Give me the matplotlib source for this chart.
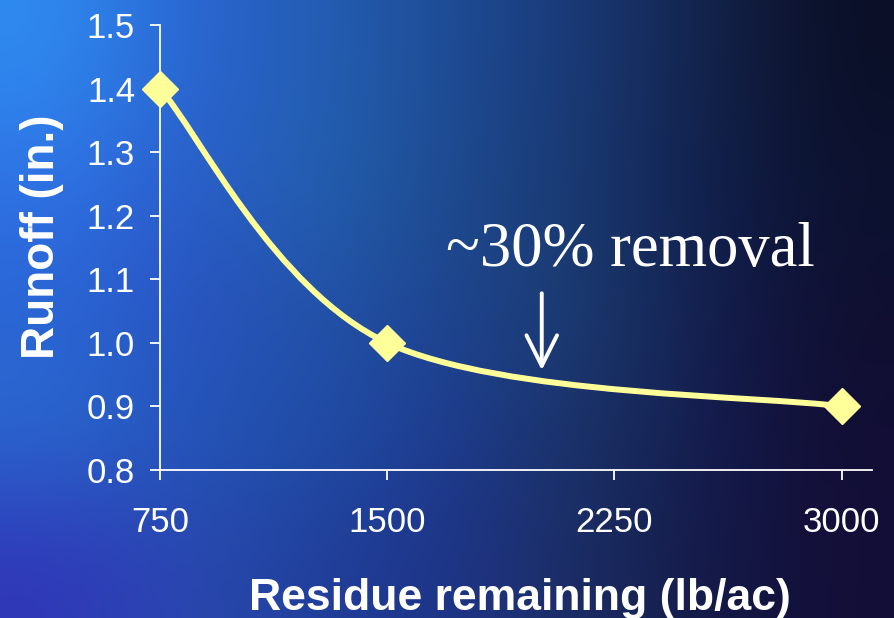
import numpy as np
import matplotlib
matplotlib.use("Agg")
import matplotlib.pyplot as plt
from matplotlib.path import Path
from matplotlib.patches import PathPatch, FancyArrowPatch

# runoff measured at three residue levels
residue = [750, 1500, 3000]          # lb/ac
runoff = [1.4, 1.0, 0.9]             # in.
x_ticks = [750, 1500, 2250, 3000]
y_ticks = [0.8, 0.9, 1.0, 1.1, 1.2, 1.3, 1.4, 1.5]
note = "~30% removal"
note_at = 2010                       # residue level the arrow points at

yellow = "#ffff99"

# coarse colour grid for the slide background (rows top to bottom)
bg_hex = [
    ["#2f8cf0", "#2a62d2", "#2460b4", "#1e4c96", "#1a3a78", "#14244c", "#0b0f26"],
    ["#2f72e6", "#2a5cc8", "#2264b0", "#1e4a90", "#1a3a72", "#10204c", "#0c1230"],
    ["#2a64d4", "#2a50c0", "#2252a8", "#1e4490", "#1c3e72", "#141f50", "#100f30"],
    ["#2a6ad0", "#2254b8", "#2050a8", "#1e3a90", "#1a3466", "#141c50", "#120e34"],
    ["#3036b8", "#2a4ab0", "#203e9a", "#1e3488", "#1c2e64", "#141a48", "#140e38"],
]
bg = np.array([[matplotlib.colors.to_rgb(c) for c in row] for row in bg_hex])

fig = plt.figure(figsize=(8.94, 6.18), dpi=100)
bg_ax = fig.add_axes([0, 0, 1, 1], zorder=-1)
bg_ax.imshow(bg, aspect="auto", interpolation="bicubic", extent=[0, 1, 0, 1])
bg_ax.set_axis_off()

ax = fig.add_axes([160 / 894, 1 - 470 / 618, 712 / 894, 445 / 618])
ax.patch.set_alpha(0)

# smoothed connector through the points (Bezier segments, Excel style)
pts = np.column_stack([residue, runoff]).astype(float)
verts = [pts[0]]
codes = [Path.MOVETO]
n = len(pts)
for i in range(n - 1):
    p_prev = pts[max(i - 1, 0)]
    p0, p1 = pts[i], pts[i + 1]
    p_next = pts[min(i + 2, n - 1)]
    c1 = p0 + (p1 - p_prev) / 6
    c2 = p1 - (p_next - p0) / 6
    verts += [c1, c2, p1]
    codes += [Path.CURVE4] * 3
ax.add_patch(PathPatch(Path(verts, codes), facecolor="none", edgecolor=yellow,
                       lw=4.3, capstyle="round", joinstyle="round", zorder=3))
ax.plot(residue, runoff, ls="none", marker="D", ms=18, color=yellow, zorder=4,
        clip_on=False)

ax.set_xlim(750, 3100)
ax.set_ylim(0.8, 1.5)
ax.set_xticks(x_ticks)
ax.set_yticks(y_ticks)
ax.set_xticklabels([str(v) for v in x_ticks], fontsize=25, family="Liberation Sans")
ax.set_yticklabels([f"{v:.1f}" for v in y_ticks], fontsize=25,
                   family="Liberation Sans")

for side in ["top", "right"]:
    ax.spines[side].set_visible(False)
for side in ["left", "bottom"]:
    ax.spines[side].set_color("white")
    ax.spines[side].set_linewidth(1.3)
ax.tick_params(colors="white", direction="out", length=7, width=1.3)
ax.tick_params(axis="x", pad=19)
ax.tick_params(axis="y", pad=11)

fig.text(520 / 894, 1 - 610 / 618, "Residue remaining (lb/ac)", color="white",
         fontsize=32, fontweight="bold", family="Liberation Sans",
         ha="center", va="baseline")
fig.text(42 / 894, 1 - 237 / 618, "Runoff (in.)", color="white", rotation=90,
         fontsize=33, fontweight="bold", family="Liberation Sans",
         ha="center", va="center")

ax.text(2303, 1.121, note, color="white", fontsize=45, family="Liberation Serif",
        ha="center", va="baseline")
ax.add_patch(FancyArrowPatch((note_at, 1.078), (note_at, 0.957),
                             arrowstyle="->,head_length=2.2,head_width=1.1",
                             mutation_scale=10, color="white", lw=2.8,
                             shrinkA=0, shrinkB=0, zorder=5))

fig.savefig("out.png", dpi=100)
